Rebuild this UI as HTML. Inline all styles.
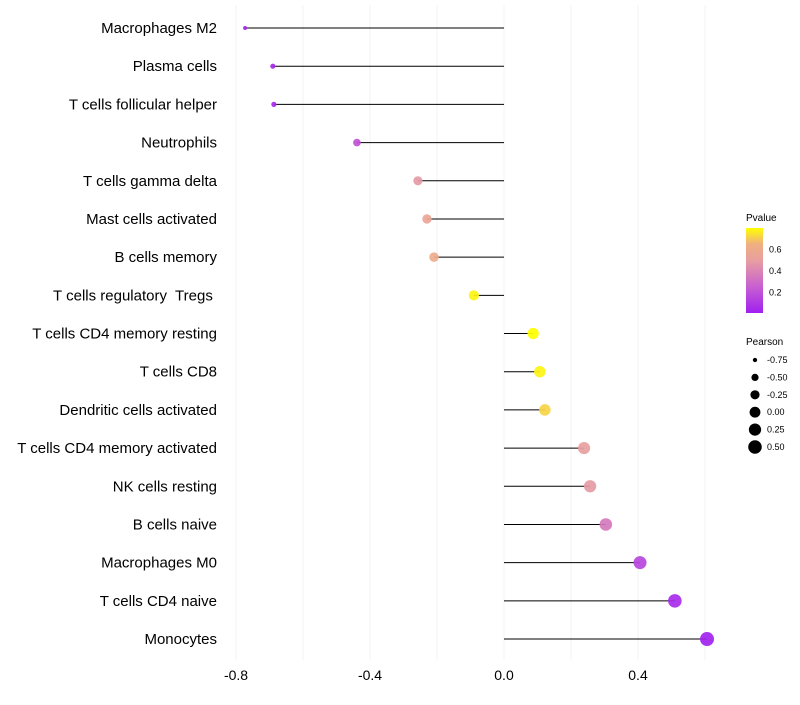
<!DOCTYPE html>
<html><head><meta charset="utf-8"><style>
body{margin:0;background:#fff;font-family:"Liberation Sans",sans-serif}
</style></head><body>
<svg id="c" width="800" height="700" xmlns="http://www.w3.org/2000/svg"></svg>
<script>
const categories=["Macrophages M2","Plasma cells","T cells follicular helper","Neutrophils","T cells gamma delta","Mast cells activated","B cells memory","T cells regulatory  Tregs\u00a0","T cells CD4 memory resting","T cells CD8","Dendritic cells activated","T cells CD4 memory activated","NK cells resting","B cells naive","Macrophages M0","T cells CD4 naive","Monocytes"];
const pearson=[-0.773,-0.690,-0.687,-0.439,-0.257,-0.230,-0.209,-0.090,0.087,0.107,0.122,0.239,0.257,0.304,0.406,0.510,0.606];
const pvalue=[0.02,0.03,0.03,0.2,0.48,0.55,0.6,0.78,0.8,0.78,0.72,0.5,0.48,0.35,0.15,0.05,0.01];
const xTicks=[-0.8,-0.4,0,0.4];
const gridTicks=[-0.8,-0.6,-0.4,-0.2,0,0.2,0.4,0.6];
const pTicks=[0.2,0.4,0.6];
const sizeTicks=[-0.75,-0.5,-0.25,0,0.25,0.5];

const svg=document.getElementById('c');const NS="http://www.w3.org/2000/svg";
function mk(t,a,p){const e=document.createElementNS(NS,t);for(const k in a)e.setAttribute(k,a[k]);(p||svg).appendChild(e);return e;}
const xs=v=>504+v*335;
const ys=i=>28+i*38.19;
const rs=v=>Math.sqrt(Math.max(1,29.3+32.8*v));
const stops=[[0,[160,32,240]],[0.25,[200,96,208]],[0.5,[232,160,160]],[0.65,[240,176,128]],[0.8,[255,255,0]]];
function col(p){p=Math.max(0,Math.min(0.8,p));for(let i=0;i<stops.length-1;i++){const a=stops[i],b=stops[i+1];if(p<=b[0]){const t=(p-a[0])/(b[0]-a[0]);const c=a[1].map((v,j)=>Math.round(v+(b[1][j]-v)*t));return `rgb(${c})`;}}return 'rgb(255,255,0)';}
gridTicks.forEach(t=>{const g=mk('line',{x1:xs(t),x2:xs(t),y1:5,y2:660,stroke:'#f3f3f3','stroke-width':1});

});
xTicks.forEach(t=>{const e=mk('text',{x:xs(t),y:680,'text-anchor':'middle','font-size':14,fill:'#000'});e.textContent=t===0?'0.0':t.toFixed(1);

});
categories.forEach((c,i)=>{const y=ys(i);
const l=mk('text',{x:217,y:y+5,'text-anchor':'end','font-size':15,fill:'#000','xml:space':'preserve'});l.style.whiteSpace='pre';l.textContent=c;


const s=mk('line',{x1:xs(0),x2:xs(pearson[i]),y1:y,y2:y,stroke:'#000','stroke-width':1});


const d=mk('circle',{cx:xs(pearson[i]),cy:y,r:rs(pearson[i]),fill:col(pvalue[i]),'fill-opacity':0.92});

});
const t1=mk('text',{x:746,y:221,'font-size':10});t1.textContent='Pvalue';


const defs=mk('defs',{});const lg=mk('linearGradient',{id:'g',x1:0,y1:1,x2:0,y2:0},defs);
stops.forEach(s=>mk('stop',{offset:s[0]/0.8,'stop-color':`rgb(${s[1]})`},lg));
const bar=mk('rect',{x:746,y:228,width:17,height:85,fill:'url(#g)'});


const py=p=>313-(p-0.005)/0.79*85;
pTicks.forEach(p=>{const e=mk('text',{x:769,y:py(p)+3.5,'font-size':9});e.textContent=p.toFixed(1);

});
const t2=mk('text',{x:746,y:345,'font-size':10});t2.textContent='Pearson';


sizeTicks.forEach((v,i)=>{const y=360+i*17.4;
const c=mk('circle',{cx:755,cy:y,r:rs(v),fill:'#000'});


const e=mk('text',{x:767,y:y+3,'font-size':9});e.textContent=v.toFixed(2);

});
</script>
</body></html>
